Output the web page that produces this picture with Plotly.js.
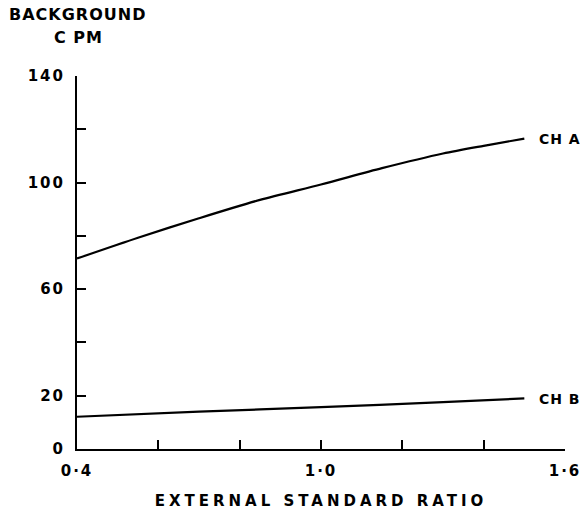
<!DOCTYPE html>
<html>
<head>
<meta charset="utf-8">
<script src="https://cdn.plot.ly/plotly-3.0.1.min.js"></script>
<style>
  html, body { margin: 0; padding: 0; background: #fff; }
  #chart { width: 586px; height: 513px; }
  .xtitle { letter-spacing: 4px; }
  .annotation-text { letter-spacing: 1px; }
  .xtick text, .ytick text { letter-spacing: 2px; }
</style>
</head>
<body>
<div id="chart"></div>
<script>
// Data
const ratioA = [0.4, 0.55, 0.7, 0.85, 1.0, 1.15, 1.3, 1.4, 1.5];
const cpmA   = [71.5, 79.3, 86.6, 93.5, 99.3, 105.4, 110.9, 113.8, 116.5];
const ratioB = [0.4, 0.7, 1.0, 1.3, 1.5];
const cpmB   = [12.1, 14.0, 15.7, 17.6, 19.0];
const seriesNames = ['CH A', 'CH B'];

const xTickVals = [0.4, 0.6, 0.8, 1.0, 1.2, 1.4, 1.6];
const xTickText = ['0·4', '', '', '1·0', '', '', '1·6'];
const yTickVals = [0, 20, 40, 60, 80, 100, 120, 140];
const yTickText = ['0', '20', '', '60', '', '100', '', '140'];

const FONT = 'DejaVu Sans, sans-serif';

const traces = [
  { x: ratioA, y: cpmA, mode: 'lines', line: { color: '#000', width: 2.2, shape: 'spline', smoothing: 0.8 }, name: seriesNames[0], hoverinfo: 'skip' },
  { x: ratioB, y: cpmB, mode: 'lines', line: { color: '#000', width: 2.2, shape: 'spline', smoothing: 0.8 }, name: seriesNames[1], hoverinfo: 'skip' }
];

const layout = {
  width: 586, height: 513,
  margin: { l: 77, r: 21, t: 76, b: 64 },
  paper_bgcolor: '#fff', plot_bgcolor: '#fff',
  showlegend: false,
  font: { family: FONT, color: '#000', size: 15, weight: 'bold' },
  xaxis: {
    range: [0.4, 1.6], showgrid: false, zeroline: false,
    showline: true, linecolor: '#000', linewidth: 2,
    ticks: 'inside', ticklen: 9, tickwidth: 2, tickcolor: '#000',
    tickvals: xTickVals, ticktext: xTickText,
    tickfont: { family: FONT, size: 15, weight: 'bold' },
    ticklabelstandoff: 7,
    title: { text: 'EXTERNAL STANDARD RATIO', font: { family: FONT, size: 15, weight: 'bold' }, standoff: 16 }
  },
  yaxis: {
    range: [0, 140], showgrid: false, zeroline: false,
    showline: true, linecolor: '#000', linewidth: 2,
    ticks: 'inside', ticklen: 9, tickwidth: 2, tickcolor: '#000',
    tickvals: yTickVals, ticktext: yTickText,
    tickfont: { family: FONT, size: 15, weight: 'bold' },
    ticklabelstandoff: 7
  },
  annotations: [
    { text: 'BACKGROUND', xref: 'paper', yref: 'paper', x: 0.0, y: 1.165, xanchor: 'center', yanchor: 'middle', showarrow: false, font: { family: FONT, size: 16, weight: 'bold' } },
    { text: 'C PM', xref: 'paper', yref: 'paper', x: 0.003, y: 1.102, xanchor: 'center', yanchor: 'middle', showarrow: false, font: { family: FONT, size: 16, weight: 'bold' } },
    { text: seriesNames[0], xref: 'x', yref: 'y', x: 1.53, y: 116.4, xanchor: 'left', yanchor: 'middle', showarrow: false, font: { family: FONT, size: 14, weight: 'bold' } },
    { text: seriesNames[1], xref: 'x', yref: 'y', x: 1.53, y: 18.7, xanchor: 'left', yanchor: 'middle', showarrow: false, font: { family: FONT, size: 14, weight: 'bold' } }
  ]
};

Plotly.newPlot('chart', traces, layout, { staticPlot: true, displayModeBar: false });
</script>
</body>
</html>
